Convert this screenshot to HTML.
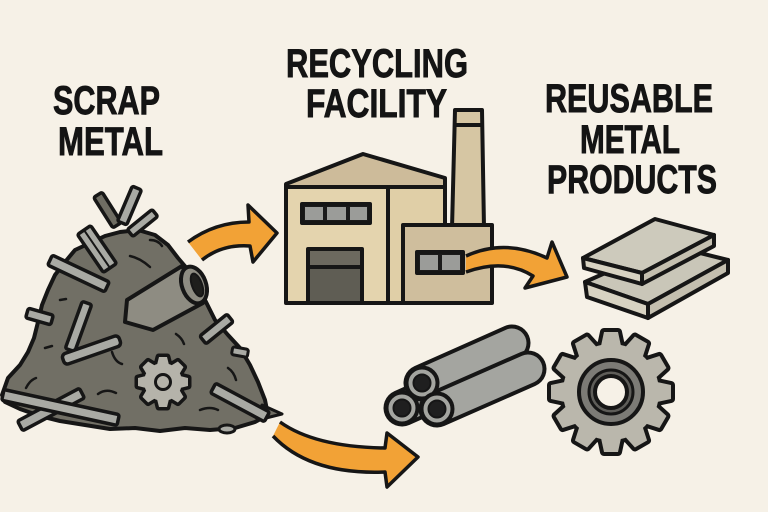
<!DOCTYPE html>
<html><head><meta charset="utf-8"><style>
html,body{margin:0;padding:0;background:#f6f1e7;}
svg{display:block;}
text{font-family:"Liberation Sans",sans-serif;font-weight:bold;font-size:40px;fill:#141414;stroke:#141414;stroke-width:0.9px;}
</style></head><body>
<svg width="768" height="512" viewBox="0 0 768 512" xmlns="http://www.w3.org/2000/svg">
<rect width="768" height="512" fill="#f6f1e7"/>
<defs>
<g id="bt">
<polygon points="-10,-46 -7,-60 7,-60 10,-46"/>
<polygon points="-10,-46 -7,-60 7,-60 10,-46" transform="rotate(30)"/>
<polygon points="-10,-46 -7,-60 7,-60 10,-46" transform="rotate(60)"/>
<polygon points="-10,-46 -7,-60 7,-60 10,-46" transform="rotate(90)"/>
<polygon points="-10,-46 -7,-60 7,-60 10,-46" transform="rotate(120)"/>
<polygon points="-10,-46 -7,-60 7,-60 10,-46" transform="rotate(150)"/>
<polygon points="-10,-46 -7,-60 7,-60 10,-46" transform="rotate(180)"/>
<polygon points="-10,-46 -7,-60 7,-60 10,-46" transform="rotate(210)"/>
<polygon points="-10,-46 -7,-60 7,-60 10,-46" transform="rotate(240)"/>
<polygon points="-10,-46 -7,-60 7,-60 10,-46" transform="rotate(270)"/>
<polygon points="-10,-46 -7,-60 7,-60 10,-46" transform="rotate(300)"/>
<polygon points="-10,-46 -7,-60 7,-60 10,-46" transform="rotate(330)"/>
<circle r="48"/>
</g>
<g id="st">
<polygon points="-6,-17 -4,-25 4,-25 6,-17"/>
<polygon points="-6,-17 -4,-25 4,-25 6,-17" transform="rotate(45)"/>
<polygon points="-6,-17 -4,-25 4,-25 6,-17" transform="rotate(90)"/>
<polygon points="-6,-17 -4,-25 4,-25 6,-17" transform="rotate(135)"/>
<polygon points="-6,-17 -4,-25 4,-25 6,-17" transform="rotate(180)"/>
<polygon points="-6,-17 -4,-25 4,-25 6,-17" transform="rotate(225)"/>
<polygon points="-6,-17 -4,-25 4,-25 6,-17" transform="rotate(270)"/>
<polygon points="-6,-17 -4,-25 4,-25 6,-17" transform="rotate(315)"/>
<circle r="19"/>
</g>
</defs>

<!-- Labels -->
<text x="53" y="114" textLength="107" lengthAdjust="spacingAndGlyphs">SCRAP</text>
<text x="58" y="155" textLength="105" lengthAdjust="spacingAndGlyphs">METAL</text>
<text x="286" y="77" textLength="182" lengthAdjust="spacingAndGlyphs">RECYCLING</text>
<text x="306" y="117" textLength="141" lengthAdjust="spacingAndGlyphs">FACILITY</text>
<text x="545" y="112" textLength="168" lengthAdjust="spacingAndGlyphs">REUSABLE</text>
<text x="580" y="153" textLength="100" lengthAdjust="spacingAndGlyphs">METAL</text>
<text x="547" y="193" textLength="170" lengthAdjust="spacingAndGlyphs">PRODUCTS</text>

<g stroke="#161616" stroke-linejoin="round" stroke-linecap="round">
<!-- Scrap pile top sticks behind -->
<rect x="-18" y="-5" width="36" height="10" rx="2" fill="#6f6d63" stroke-width="3.5" transform="translate(107.5,210) rotate(57.7)"/>
<rect x="-19" y="-5" width="38" height="10" rx="2" fill="#a9aaa4" stroke-width="3.5" transform="translate(129.5,205.5) rotate(113)"/>

<!-- pile body -->
<polygon fill="#716f65" stroke-width="4" points="2,395 8,378 20,365 28,352 34,338 38,322 42,305 48,290 55,275 65,262 75,250 90,243 105,236 120,232 138,230 155,235 168,245 178,258 190,272 205,300 215,320 228,335 240,348 250,365 258,382 265,400 268,415 255,422 235,428 210,430 185,428 160,431 135,428 110,429 85,425 60,421 40,416 20,409 5,402"/>

<!-- scribbles -->
<g fill="none" stroke-width="2.5">
<path d="M130,256 Q140,258 150,267"/>
<path d="M60,300 L66,299"/>
<path d="M45,348 L52,346"/>
<path d="M26,388 Q30,380 36,378"/>
<path d="M98,394 Q106,388 116,393"/>
<path d="M176,334 Q182,338 184,344"/>
<path d="M228,368 Q234,372 236,380"/>
<path d="M112,352 Q115,362 122,364"/>
<path d="M150,240 Q158,240 162,246"/>
<path d="M200,410 Q210,406 218,410"/>
</g>

<!-- bars -->
<rect x="-16" y="-4.5" width="32" height="9" rx="2" fill="#a9aaa4" stroke-width="3.5" transform="translate(142.5,223) rotate(141)"/>
<rect x="-23" y="-8" width="46" height="16" rx="2" fill="#a9aaa4" stroke-width="3.5" transform="translate(97,249) rotate(55.6)"/>
<line x1="-21" y1="0" x2="21" y2="0" stroke-width="2" transform="translate(97,249) rotate(55.6)"/>
<rect x="-31.5" y="-5.5" width="63" height="11" rx="2" fill="#a9aaa4" stroke-width="3.5" transform="translate(78.5,273.5) rotate(25.3)"/>
<rect x="-13" y="-5" width="26" height="10" rx="2" fill="#a9aaa4" stroke-width="3.5" transform="translate(39.5,316.5) rotate(15.6)"/>
<rect x="-25" y="-5" width="50" height="10" rx="2" fill="#a9aaa4" stroke-width="3.5" transform="translate(78.5,326.5) rotate(109.9)"/>
<rect x="-30" y="-5.5" width="60" height="11" rx="4" fill="#a9aaa4" stroke-width="3.5" transform="translate(91.5,350) rotate(-19.3)"/>
<rect x="-17.5" y="-5" width="35" height="10" rx="2" fill="#a9aaa4" stroke-width="3.5" transform="translate(216.5,329) rotate(-39)"/>
<rect x="-8" y="-4" width="16" height="8" rx="2" fill="#a9aaa4" stroke-width="3" transform="translate(240,352) rotate(10)"/>
<rect x="-35" y="-5.5" width="70" height="11" rx="2" fill="#a9aaa4" stroke-width="3.5" transform="translate(51,409.5) rotate(-28)"/>
<rect x="-59" y="-5.5" width="118" height="11" rx="2" fill="#a9aaa4" stroke-width="3.5" transform="translate(60.5,407.5) rotate(12.3)"/>
<polygon points="262,405 282,414 266,418" fill="#6f6d63" stroke-width="3"/>
<rect x="-30.5" y="-5.5" width="61" height="11" rx="2" fill="#a9aaa4" stroke-width="3.5" transform="translate(240,402.5) rotate(28.2)"/>
<ellipse cx="227" cy="429" rx="8" ry="4" fill="#a9aaa4" stroke-width="3"/>

<!-- pipe in pile -->
<polygon points="127,300 182,266 203,303 153,330 125,322" fill="#8e8c82" stroke-width="4"/>
<ellipse cx="194" cy="285" rx="12" ry="19" fill="#8e8c82" stroke-width="4" transform="rotate(-20 194 285)"/>
<ellipse cx="197" cy="285" rx="5" ry="12" fill="#1e1e1c" stroke-width="2" transform="rotate(-20 197 285)"/>

<!-- small gear in pile -->
<use href="#st" transform="translate(163,382)" fill="#161616" stroke="#161616" stroke-width="7"/>
<use href="#st" transform="translate(163,382)" fill="#b5b3aa" stroke="none"/>
<circle cx="163" cy="382" r="7.5" fill="#b5b3aa" stroke-width="3"/>
</g>

<!-- Arrow 1 -->
<path d="M188,242 Q215,222 249,222 L248,205 L277,233 L253,262 L250,246 Q222,244 202,260 Z" fill="#f2a236"/>
<path d="M188,242 Q215,222 249,222 L248,205 L277,233 L253,262 L250,246 Q222,244 202,260" fill="none" stroke="#161616" stroke-width="3.5" stroke-linejoin="round"/>

<!-- Factory -->
<g stroke="#161616" stroke-width="4" stroke-linejoin="round">
<polygon points="455,110 482,110 484,228 452,228" fill="#d6c6a3"/>
<line x1="455" y1="125" x2="482" y2="125"/>
<polygon points="286,184 363,154 445,178 445,187 286,187" fill="#cdbb9a"/>
<rect x="286" y="187" width="102" height="116" fill="#e4d4ae"/>
<rect x="388" y="187" width="57" height="116" fill="#e0cfa7"/>
<rect x="403" y="225" width="89" height="78" fill="#cfbe9d"/>
<rect x="302" y="204" width="68" height="19" fill="#1b1b1b"/>
<rect x="308" y="249" width="54" height="54" fill="#5f5d54"/>
<line x1="308" y1="267" x2="362" y2="267"/>
<rect x="417" y="252" width="46" height="21" fill="#1b1b1b"/>
</g>
<g fill="#9b9c99">
<rect x="305" y="207" width="18" height="13"/>
<rect x="327" y="207" width="19" height="13"/>
<rect x="350" y="207" width="17" height="13"/>
<rect x="420" y="255" width="18" height="15"/>
<rect x="442" y="255" width="18" height="15"/>
</g>
<rect x="310" y="251" width="50" height="14" fill="#6c695f"/>

<!-- Arrow 2 -->
<path d="M466,256 Q505,238 547,258 L552,242 L567,277 L525,288 L533,276 Q505,258 466,272 Z" fill="#f2a236"/>
<path d="M466,256 Q505,238 547,258 L552,242 L567,277 L525,288 L533,276 Q505,258 466,272" fill="none" stroke="#161616" stroke-width="3.5" stroke-linejoin="round"/>

<!-- Arrow 3 -->
<path d="M280,422 Q315,447 385,448 L387,433 L418,457 L387,487 L385,472 Q310,475 273,436 Z" fill="#f2a236"/>
<path d="M280,422 Q315,447 385,448 L387,433 L418,457 L387,487 L385,472 Q310,475 273,436" fill="none" stroke="#161616" stroke-width="3.5" stroke-linejoin="round"/>

<!-- Plates -->
<g stroke="#161616" stroke-width="4" stroke-linejoin="round">
<polygon points="585,282 668,245 728,260 648,304" fill="#c9c6b8"/>
<polygon points="585,282 648,304 648,318 587,297" fill="#d8d3c2"/>
<polygon points="648,304 728,260 728,273 648,318" fill="#c4bfaf"/>
<polygon points="583,258 655,219 714,235 642,273" fill="#cdcabc"/>
<polygon points="583,258 642,273 642,284 584,268" fill="#d8d3c2"/>
<polygon points="642,273 714,235 714,246 642,284" fill="#c4bfaf"/>
</g>

<!-- Pipes -->
<g stroke-linecap="round">
<line x1="402" y1="408" x2="492" y2="368" stroke="#161616" stroke-width="37"/>
<line x1="402" y1="408" x2="492" y2="368" stroke="#a4a5a0" stroke-width="29"/>
<line x1="422" y1="383" x2="512" y2="343" stroke="#161616" stroke-width="37"/>
<line x1="422" y1="383" x2="512" y2="343" stroke="#a4a5a0" stroke-width="29"/>
<line x1="437" y1="409" x2="528" y2="369" stroke="#161616" stroke-width="37"/>
<line x1="437" y1="409" x2="528" y2="369" stroke="#a4a5a0" stroke-width="29"/>
</g>
<g stroke="#161616" stroke-width="4">
<circle cx="422" cy="383" r="15.5" fill="#a4a5a0"/>
<circle cx="422" cy="383" r="8.5" fill="#1f1f1f" stroke-width="2"/>
<circle cx="402" cy="408" r="15.5" fill="#a4a5a0"/>
<circle cx="402" cy="408" r="8.5" fill="#1f1f1f" stroke-width="2"/>
<circle cx="437" cy="409" r="15.5" fill="#a4a5a0"/>
<circle cx="437" cy="409" r="8.5" fill="#1f1f1f" stroke-width="2"/>
</g>

<!-- Big gear -->
<use href="#bt" transform="translate(611,392)" fill="#161616" stroke="#161616" stroke-width="8" stroke-linejoin="round"/>
<use href="#bt" transform="translate(611,392)" fill="#bab7ac" stroke="none"/>
<circle cx="611" cy="392" r="32" fill="#7c7b76" stroke="#161616" stroke-width="4"/>
<circle cx="611" cy="392" r="22" fill="#5e5d59" stroke="#161616" stroke-width="3"/>
<circle cx="611" cy="392" r="16" fill="#f6f1e7" stroke="#161616" stroke-width="4"/>
</svg>
</body></html>
